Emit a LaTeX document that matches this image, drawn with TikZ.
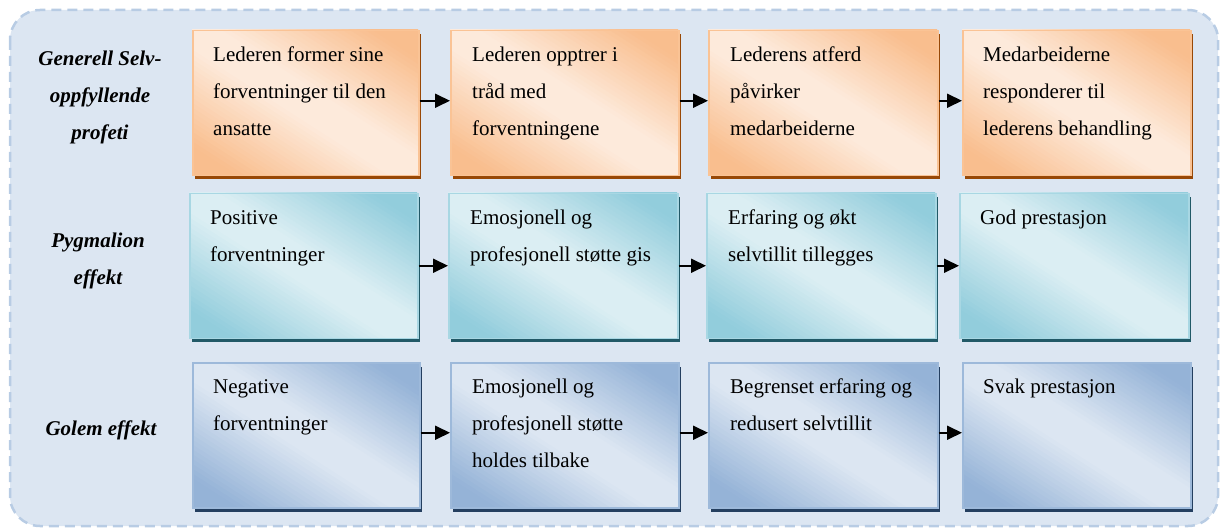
\documentclass[tikz,border=0pt]{standalone}
\usepackage{fontspec}
\setmainfont{Liberation Serif}
\usetikzlibrary{arrows.meta}
\definecolor{bgfill}{HTML}{DCE6F2}
\definecolor{bgline}{HTML}{B8CCE4}
\definecolor{odark}{HTML}{F9BE8E}
\definecolor{olight}{HTML}{FDEADB}
\definecolor{oline}{HTML}{FAC395}
\definecolor{oshadow}{HTML}{984806}
\definecolor{tdark}{HTML}{92CDDC}
\definecolor{tlight}{HTML}{DBEEF3}
\definecolor{tline}{HTML}{A8D7E3}
\definecolor{tshadow}{HTML}{215967}
\definecolor{bdark}{HTML}{95B3D7}
\definecolor{blight}{HTML}{DCE6F2}
\definecolor{bline}{HTML}{9DB9DA}
\definecolor{bshadow}{HTML}{243F60}
\tikzset{
  basebox/.style={rectangle, inner sep=0pt, line width=1.5pt, anchor=north west},
  obox/.style={basebox, draw=oline},
  tbox/.style={basebox, draw=tline},
  bbox/.style={basebox, draw=bline},
  btxt/.style={inner sep=0pt, anchor=base west},
  lbl/.style={inner sep=0pt, anchor=base},
  arr/.style={line width=1.8pt, -{Triangle[length=15pt,width=14pt]}},
}
\newcommand{\btext}[1]{\parbox[t]{220pt}{\raggedright\fontsize{21}{37}\selectfont #1}}
\newcommand{\ltext}[1]{\parbox[t]{200pt}{\centering\fontsize{21}{37}\selectfont\bfseries\itshape #1}}
% name, style, shadow colour, x, y, w, h, dark, light
\newcommand{\mkbox}[9]{%
  \fill[#3] (#4+3,#5+4.5) rectangle ++(#6,#7);
  \begin{scope}[shift={(#4,#5)}, xscale=#6, yscale=#7]
  \clip (0,0) rectangle (1,1);
  \foreach \i in {0,...,59} {
    \pgfmathsetmacro\fa{-1+\i/30}
    \pgfmathsetmacro\fb{\fa+0.045}
    \pgfmathsetmacro\fm{abs(\fa+1/60)}
    \pgfmathsetmacro\pp{min(100,max(0,(\fm-0.12)/0.68*100))}
    \fill[#8!\pp!#9] (\fa-1,-1) -- (\fb-1,-1) -- (\fb+2,2) -- (\fa+2,2) -- cycle;
  }
  \end{scope}
  \node[#2, minimum width=#6pt, minimum height=#7pt] (#1) at (#4,#5) {};}
\begin{document}
\begin{tikzpicture}[x=1pt,y=-1pt]
\useasboundingbox (0,0) rectangle (1221,529);
\draw[fill=bgfill, draw=bgline, line width=2.5pt, dash pattern=on 10pt off 6pt, rounded corners=30pt]
  (10,10) rectangle (1218,526);
% row 1
\mkbox{a1}{obox}{oshadow}{192}{30}{226}{145}{odark}{olight}
\mkbox{a2}{obox}{oshadow}{450}{30}{228}{145}{odark}{olight}
\mkbox{a3}{obox}{oshadow}{708}{30}{229}{145}{odark}{olight}
\mkbox{a4}{obox}{oshadow}{962}{30}{228}{145}{odark}{olight}
% row 2
\mkbox{b1}{tbox}{tshadow}{189}{193}{228}{145}{tdark}{tlight}
\mkbox{b2}{tbox}{tshadow}{448}{193}{229}{145}{tdark}{tlight}
\mkbox{b3}{tbox}{tshadow}{706}{193}{229}{145}{tdark}{tlight}
\mkbox{b4}{tbox}{tshadow}{959}{193}{229}{145}{tdark}{tlight}
% row 3
\mkbox{c1}{bbox}{bshadow}{192}{362}{227}{145}{bdark}{blight}
\mkbox{c2}{bbox}{bshadow}{450}{362}{228}{145}{bdark}{blight}
\mkbox{c3}{bbox}{bshadow}{708}{362}{229}{145}{bdark}{blight}
\mkbox{c4}{bbox}{bshadow}{962}{362}{228}{145}{bdark}{blight}
% texts
\node[btxt] (ta1) at ([xshift=21pt,yshift=-32pt]a1.north west) {\btext{Lederen former sine\\forventninger til den\\ansatte}};
\node[btxt] (ta2) at ([xshift=22pt,yshift=-32pt]a2.north west) {\btext{Lederen opptrer i\\tråd med\\forventningene}};
\node[btxt] (ta3) at ([xshift=22pt,yshift=-32pt]a3.north west) {\btext{Lederens atferd\\påvirker\\medarbeiderne}};
\node[btxt] (ta4) at ([xshift=21pt,yshift=-32pt]a4.north west) {\btext{Medarbeiderne\\responderer til\\lederens behandling}};
\node[btxt] (tb1) at ([xshift=21pt,yshift=-32pt]b1.north west) {\btext{Positive\\forventninger}};
\node[btxt] (tb2) at ([xshift=22pt,yshift=-32pt]b2.north west) {\btext{Emosjonell og\\profesjonell støtte gis}};
\node[btxt] (tb3) at ([xshift=22pt,yshift=-32pt]b3.north west) {\btext{Erfaring og økt\\selvtillit tillegges}};
\node[btxt] (tb4) at ([xshift=21pt,yshift=-32pt]b4.north west) {\btext{God prestasjon}};
\node[btxt] (tc1) at ([xshift=21pt,yshift=-31pt]c1.north west) {\btext{Negative\\forventninger}};
\node[btxt] (tc2) at ([xshift=22pt,yshift=-31pt]c2.north west) {\btext{Emosjonell og\\profesjonell støtte\\holdes tilbake}};
\node[btxt] (tc3) at ([xshift=22pt,yshift=-31pt]c3.north west) {\btext{Begrenset erfaring og\\redusert selvtillit}};
\node[btxt] (tc4) at ([xshift=21pt,yshift=-31pt]c4.north west) {\btext{Svak prestasjon}};
% labels
\node[lbl] (l1) at (100,66) {\ltext{Generell Selv-\\oppfyllende\\profeti}};
\node[lbl] (l2) at (98,248) {\ltext{Pygmalion\\effekt}};
\node[lbl] (l3) at (101,435) {\ltext{Golem effekt}};
% arrows
\draw[arr] ([yshift=2.5pt]a1.east) -- ([yshift=2.5pt]a2.west);
\draw[arr] ([yshift=2.5pt]a2.east) -- ([yshift=2.5pt]a3.west);
\draw[arr] ([yshift=2.5pt]a3.east) -- ([yshift=2.5pt]a4.west);
\draw[arr] ([yshift=0.5pt]b1.east) -- ([yshift=0.5pt]b2.west);
\draw[arr] ([yshift=0.5pt]b2.east) -- ([yshift=0.5pt]b3.west);
\draw[arr] ([yshift=0.5pt]b3.east) -- ([yshift=0.5pt]b4.west);
\draw[arr] ([yshift=2.5pt]c1.east) -- ([yshift=2.5pt]c2.west);
\draw[arr] ([yshift=2.5pt]c2.east) -- ([yshift=2.5pt]c3.west);
\draw[arr] ([yshift=2.5pt]c3.east) -- ([yshift=2.5pt]c4.west);
\end{tikzpicture}
\end{document}
